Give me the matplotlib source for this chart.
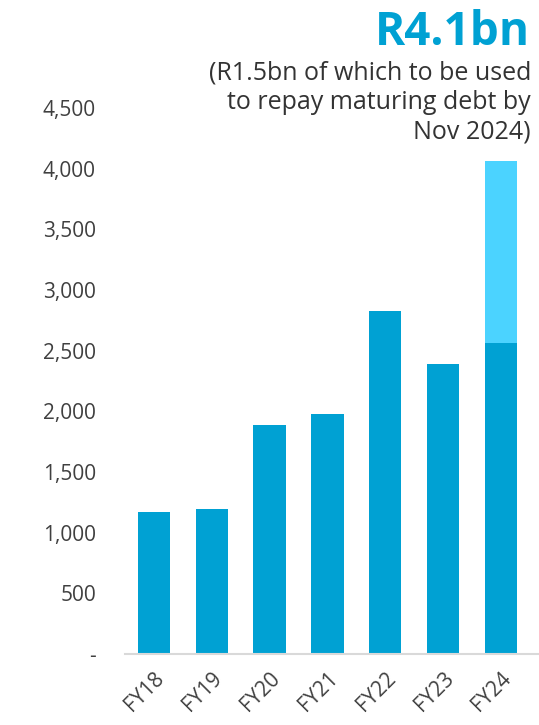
import matplotlib
matplotlib.use("Agg")
import matplotlib.pyplot as plt

# Liquidity by financial year (Rm)
years = ["FY18", "FY19", "FY20", "FY21", "FY22", "FY23", "FY24"]
base = [1170, 1195, 1885, 1975, 2830, 2390, 2560]
debt_repay = [0, 0, 0, 0, 0, 0, 1500]
yticks = [0, 500, 1000, 1500, 2000, 2500, 3000, 3500, 4000, 4500]
ytick_labels = ["-", "500", "1,000", "1,500", "2,000", "2,500", "3,000", "3,500", "4,000", "4,500"]

plt.rcParams["font.family"] = ["Open Sans", "DejaVu Sans"]
dark = "#00A1D3"
light = "#4BD3FF"
grey_text = "#404040"

fig = plt.figure(figsize=(5.39, 7.25), dpi=100)
ax = fig.add_axes([0.232, 0.098, 0.768, 0.753])

x = range(len(years))
ax.bar(x, base, width=0.56, color=dark)
ax.bar(x, debt_repay, width=0.56, bottom=base, color=light)

ax.set_xlim(-0.5, 6.66)
ax.set_ylim(0, 4500)
ax.set_yticks(yticks)
ax.set_yticklabels(ytick_labels, fontsize=15, color=grey_text)
ax.set_xticks(list(x))
ax.set_xticklabels(years, fontsize=15, color=grey_text, rotation=45,
                   ha="right", rotation_mode="anchor")
ax.tick_params(axis="y", length=0, pad=21)
ax.tick_params(axis="x", length=0, pad=10)

for side in ["top", "right", "left"]:
    ax.spines[side].set_visible(False)
ax.spines["bottom"].set_color("#D9D9D9")
ax.spines["bottom"].set_linewidth(1.5)

fig.text(0.983, 0.938, "R4.1bn", ha="right", va="baseline", fontsize=33,
         fontweight="bold", color=dark)
fig.text(0.985, 0.916, "(R1.5bn of which to be used\nto repay maturing debt by\nNov 2024)",
         ha="right", va="top", fontsize=18, color="#333333", linespacing=1.22)

fig.savefig("out.png", dpi=100)
